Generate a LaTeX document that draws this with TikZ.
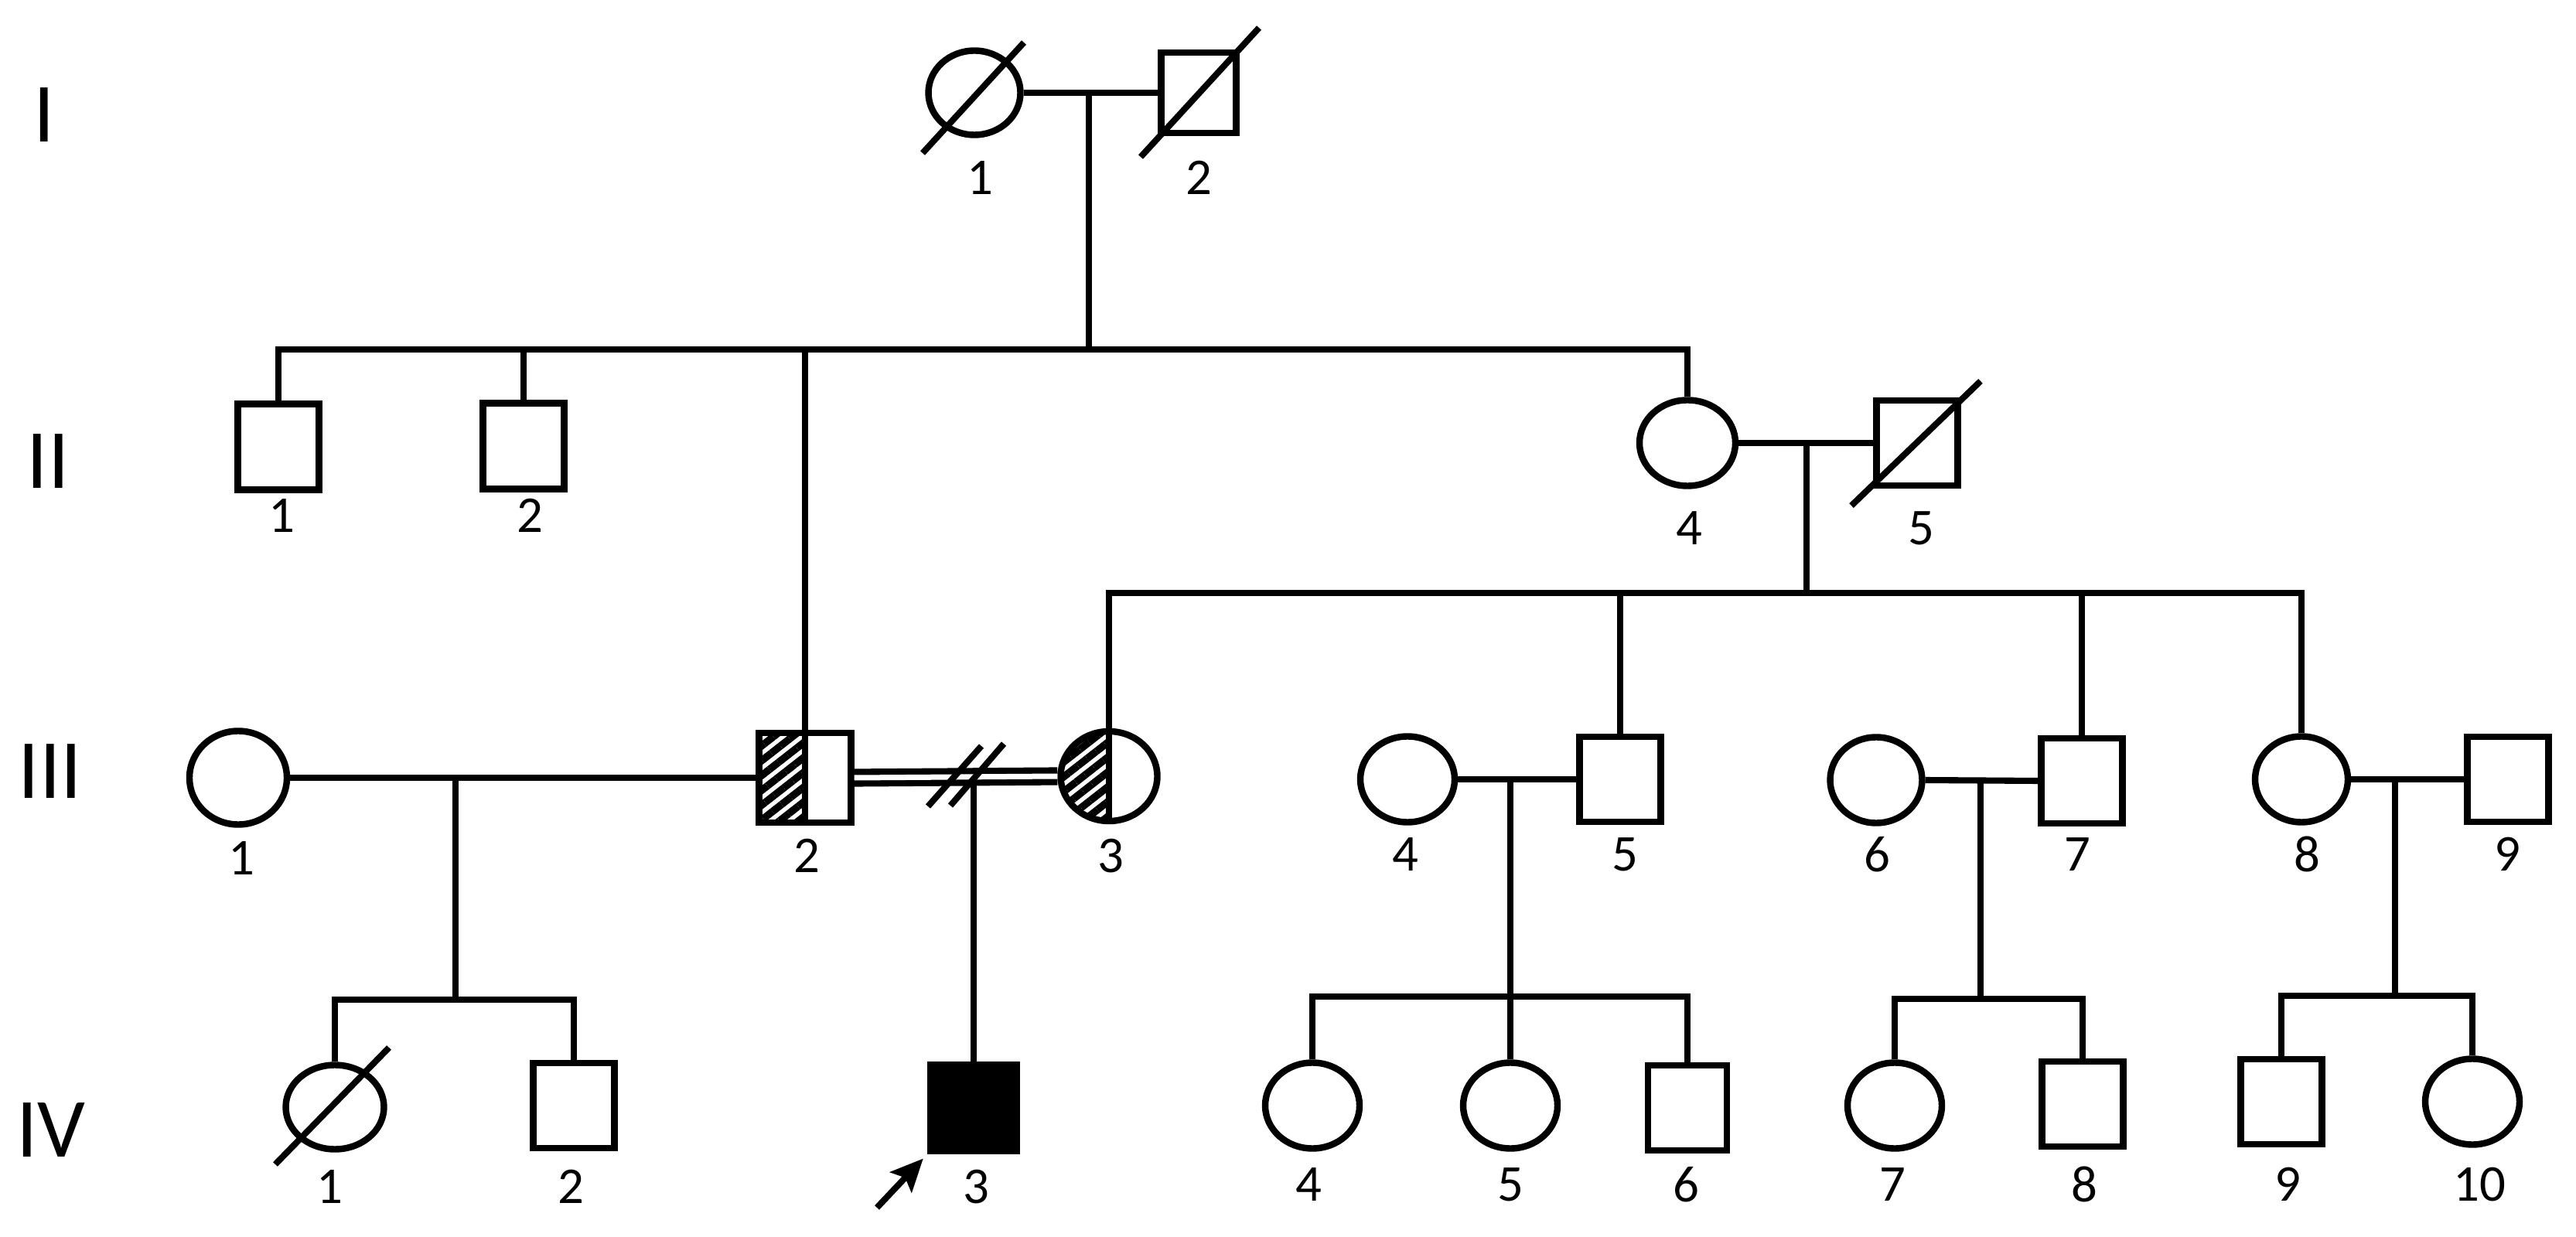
\documentclass[tikz,border=0pt]{standalone}
\usepackage{fontspec}
\setmainfont{Carlito}
\usetikzlibrary{shapes.geometric,patterns.meta,arrows.meta}
\begin{document}
\begin{tikzpicture}
\tikzstyle{male}=[draw, rectangle, line width=2.4pt, minimum width=1.05cm, minimum height=1.1cm, inner sep=0pt]
\tikzstyle{female}=[draw, ellipse, line width=2.4pt, minimum width=1.22cm, minimum height=1.11cm, inner sep=0pt]
\tikzstyle{carrier}=[path picture={
    \fill[pattern={Lines[angle=38,distance=4.3pt,line width=2.7pt]}] (path picture bounding box.north west) rectangle (path picture bounding box.south);
    \draw[line width=2.4pt] (path picture bounding box.north) -- (path picture bounding box.south);}]
\tikzstyle{link}=[line width=2.3pt]
\tikzstyle{num}=[font=\fontsize{19}{19}\selectfont, inner sep=0pt]
\tikzstyle{gen}=[font=\fontsize{31}{31}\selectfont, inner sep=0pt]
\useasboundingbox (0,0) rectangle (33.31,-16);

    \node[gen] (gI) at (0.57,-1.49) {I};
    \node[gen] (gII) at (0.62,-5.97) {II};
    \node[gen] (gIII) at (0.65,-9.98) {III};
    \node[gen] (gIV) at (0.66,-14.62) {IV};

    % generation I
    \node[female, minimum width=1.19cm, minimum height=1.09cm] (I1) at (12.60,-1.20) {};
    \node[male, minimum width=0.97cm, minimum height=1.04cm] (I2) at (15.50,-1.20) {};
    \node[num] (nI1) at (12.67,-2.30) {1};
    \node[num] (nI2) at (15.50,-2.30) {2};
    \coordinate (m1) at (14.08,-1.20);
    \coordinate (s2) at (14.08,-4.52);

    % generation II
    \node[male, minimum height=1.11cm] (II1) at (3.60,-5.78) {};
    \node[male, minimum height=1.11cm] (II2) at (6.77,-5.77) {};
    \node[female, minimum width=1.24cm] (II4) at (21.82,-5.73) {};
    \node[male] (II5) at (24.79,-5.73) {};
    \node[num] (nII1) at (3.64,-6.67) {1};
    \node[num] (nII2) at (6.85,-6.67) {2};
    \node[num] (nII4) at (21.84,-6.83) {4};
    \node[num] (nII5) at (24.84,-6.83) {5};
    \coordinate (m2) at (23.36,-5.73);
    \coordinate (s3) at (23.36,-7.67);

    % generation III
    \node[female, minimum width=1.26cm, minimum height=1.21cm] (III1) at (3.08,-10.06) {};
    \node[male, carrier, minimum width=1.19cm, minimum height=1.16cm] (III2) at (10.41,-10.06) {};
    \node[female, carrier, minimum width=1.25cm, minimum height=1.16cm] (III3) at (14.34,-10.04) {};
    \node[female] (III4) at (18.20,-10.08) {};
    \node[male] (III5) at (20.95,-10.08) {};
    \node[female, minimum width=1.19cm] (III6) at (24.26,-10.09) {};
    \node[male] (III7) at (26.92,-10.10) {};
    \node[female, minimum width=1.2cm] (III8) at (29.76,-10.08) {};
    \node[male] (III9) at (32.43,-10.08) {};
    \node[num] (nIII1) at (3.12,-11.10) {1};
    \node[num] (nIII2) at (10.43,-11.07) {2};
    \node[num] (nIII3) at (14.36,-11.07) {3};
    \node[num] (nIII4) at (18.17,-11.05) {4};
    \node[num] (nIII5) at (21.01,-11.05) {5};
    \node[num] (nIII6) at (24.27,-11.05) {6};
    \node[num] (nIII7) at (26.86,-11.05) {7};
    \node[num] (nIII8) at (29.83,-11.05) {8};
    \node[num] (nIII9) at (32.42,-11.05) {9};
    \coordinate (m3a) at (5.89,-10.06);
    \coordinate (m3b) at (12.59,-10.14);
    \coordinate (m3c) at (19.53,-10.08);
    \coordinate (m3d) at (25.61,-10.10);
    \coordinate (m3e) at (30.97,-10.08);
    \coordinate (s4a) at (5.89,-12.93);
    \coordinate (s4c) at (19.53,-12.89);
    \coordinate (s4d) at (25.61,-12.92);
    \coordinate (s4e) at (30.97,-12.88);

    % generation IV
    \node[female, minimum width=1.27cm, minimum height=1.09cm] (IV1) at (4.33,-14.32) {};
    \node[male] (IV2) at (7.42,-14.30) {};
    \node[male, fill=black, minimum width=1.11cm, minimum height=1.11cm] (IV3) at (12.59,-14.33) {};
    \node[female] (IV4) at (16.97,-14.30) {};
    \node[female] (IV5) at (19.53,-14.30) {};
    \node[male, minimum width=1.02cm] (IV6) at (21.82,-14.33) {};
    \node[female] (IV7) at (24.50,-14.30) {};
    \node[male] (IV8) at (26.93,-14.28) {};
    \node[male] (IV9) at (29.50,-14.25) {};
    \node[female] (IV10) at (31.97,-14.25) {};
    \node[num] (nIV1) at (4.26,-15.35) {1};
    \node[num] (nIV2) at (7.38,-15.35) {2};
    \node[num] (nIV3) at (12.62,-15.35) {3};
    \node[num] (nIV4) at (16.92,-15.32) {4};
    \node[num] (nIV5) at (19.53,-15.32) {5};
    \node[num] (nIV6) at (21.80,-15.32) {6};
    \node[num] (nIV7) at (24.47,-15.32) {7};
    \node[num] (nIV8) at (26.95,-15.32) {8};
    \node[num] (nIV9) at (29.58,-15.32) {9};
    \node[num] (nIV10) at (32.06,-15.32) {10};
    \coordinate (pr) at (11.34,-15.62);

    \draw[link] (I1.east) -- (I2.west);
    \draw[link] (m1) -- (s2);
    \draw[link] (II1.north) |- (s2) -| (II4.north);
    \draw[link] (II2.north) -- (II2.north |- s2);
    \draw[link] (III2.north) -- (III2.north |- s2);

    \draw[link] (II4.east) -- (II5.west);
    \draw[link] (m2) -- (s3);
    \draw[link] (III3.north) |- (s3) -| (III8.north);
    \draw[link] (III5.north) -- (III5.north |- s3);
    \draw[link] (III7.north) -- (III7.north |- s3);

    \draw[link] (III1.east) -- (III2.west);
    \draw[link, double, double distance=0.07cm] (III2.east) -- (III3.west);
    \draw[link] (III4.east) -- (III5.west);
    \draw[link] (III6.east) -- (III7.west);
    \draw[link] (III8.east) -- (III9.west);

    \draw[link] (m3a) -- (s4a);
    \draw[link] (IV1.north) |- (s4a) -| (IV2.north);
    \draw[link] (m3b) -- (IV3.north);
    \draw[link] (m3c) -- (s4c) -- (IV5.north);
    \draw[link] (IV4.north) |- (s4c) -| (IV6.north);
    \draw[link] (m3d) -- (s4d);
    \draw[link] (IV7.north) |- (s4d) -| (IV8.north);
    \draw[link] (m3e) -- (s4e);
    \draw[link] (IV9.north) |- (s4e) -| (IV10.north);

    \draw[link] (12.00,-10.43) -- (12.69,-9.65);
    \draw[link] (12.29,-10.42) -- (12.98,-9.62);

    \draw[link] ([shift={(-0.67,-0.78)}]I1.center) -- ([shift={(0.64,0.65)}]I1.center);
    \draw[link] ([shift={(-0.75,-0.83)}]I2.center) -- ([shift={(0.78,0.84)}]I2.center);
    \draw[link] ([shift={(-0.85,-0.81)}]II5.center) -- ([shift={(0.82,0.80)}]II5.center);
    \draw[link] ([shift={(-0.77,-0.74)}]IV1.center) -- ([shift={(0.70,0.77)}]IV1.center);

    \draw[link, -{Stealth[length=0.42cm, width=0.38cm, inset=0.08cm]}, shorten >=0.08cm] (pr) -- (IV3.south west);

\end{tikzpicture}
\end{document}
